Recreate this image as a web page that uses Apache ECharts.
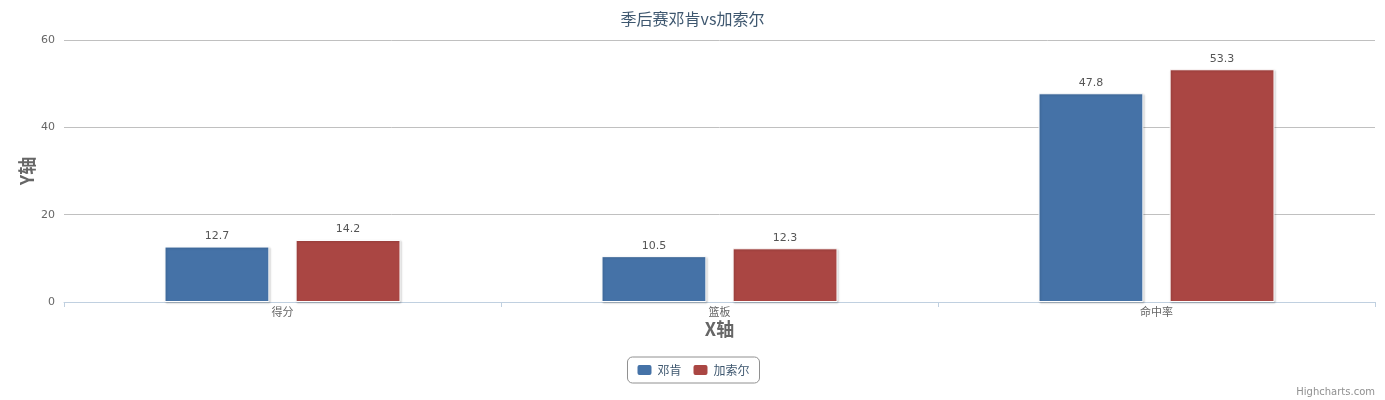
<!DOCTYPE html>
<html>
<head>
<meta charset="utf-8">
<script src="https://cdn.jsdelivr.net/npm/echarts@6/dist/echarts.min.js"></script>
<style>html,body{margin:0;padding:0;background:#fff}#c{width:1385px;height:400px}</style>
</head>
<body>
<div id="c"></div>
<script>
const categories = ['得分', '篮板', '命中率'];
const duncan = [12.7, 10.5, 47.8];
const garnett = [14.2, 12.3, 53.3];
const seriesNames = ['邓肯', '加索尔'];
const yTicks = { min: 0, max: 60, interval: 20 };

const FONT = '"DejaVu Sans", "Noto Sans CJK SC", sans-serif';
const chart = echarts.init(document.getElementById('c'));
const barStyle = (color) => ({
  color: color,
  borderColor: '#ffffff',
  borderWidth: 1,
  shadowColor: 'rgba(0,0,0,0.18)',
  shadowBlur: 2,
  shadowOffsetX: 1,
  shadowOffsetY: 1
});
const lbl = {
  show: true, position: 'top', distance: 5,
  color: '#555', fontSize: 11, fontFamily: FONT
};
chart.setOption({
  animation: false,
  title: {
    text: '季后赛邓肯vs加索尔', left: 'center', top: 6,
    textStyle: { color: '#3E576F', fontSize: 16, fontWeight: 'normal', fontFamily: '"Noto Sans CJK SC", sans-serif' }
  },
  grid: { left: 64, right: 10, top: 40, bottom: 98 },
  legend: {
    data: seriesNames, bottom: 17, left: 'center',
    borderColor: '#909090', borderWidth: 1, borderRadius: 5,
    padding: [6, 10, 6, 8], itemWidth: 16, itemHeight: 12, itemGap: 10,
    icon: 'roundRect',
    textStyle: { color: '#3E576F', fontSize: 12, fontFamily: '"Noto Sans CJK SC", sans-serif' }
  },
  xAxis: {
    type: 'category', data: categories,
    name: 'X轴', nameLocation: 'middle', nameGap: 18, nameMoveOverlap: false,
    nameTextStyle: { color: '#666', fontSize: 18, fontWeight: 'bold', fontFamily: '"Noto Sans CJK SC", sans-serif' },
    axisLine: { lineStyle: { color: '#C0D0E0' } },
    axisTick: { show: true, length: 5, lineStyle: { color: '#C0D0E0' } },
    axisLabel: { color: '#666', fontSize: 11, margin: 4, fontFamily: '"Noto Sans CJK SC", sans-serif' }
  },
  yAxis: {
    type: 'value', min: yTicks.min, max: yTicks.max, interval: yTicks.interval,
    name: 'Y轴', nameLocation: 'middle', nameGap: 28, nameMoveOverlap: false,
    nameTextStyle: { color: '#666', fontSize: 18, fontWeight: 'bold', fontFamily: '"Noto Sans CJK SC", sans-serif' },
    axisLine: { show: false }, axisTick: { show: false },
    splitLine: { lineStyle: { color: '#C0C0C0' } },
    axisLabel: { color: '#666', fontSize: 11, margin: 9, fontFamily: FONT }
  },
  series: [
    { name: seriesNames[0], type: 'bar', data: duncan, itemStyle: barStyle('#4572A7'), label: lbl,
      barGap: '25%', barCategoryGap: '46%' },
    { name: seriesNames[1], type: 'bar', data: garnett, itemStyle: barStyle('#AA4643'), label: lbl }
  ],
  graphic: [{
    type: 'text', right: 10, bottom: 3,
    style: { text: 'Highcharts.com', fill: '#909090', fontSize: 10, fontFamily: FONT }
  }]
});
</script>
</body>
</html>
